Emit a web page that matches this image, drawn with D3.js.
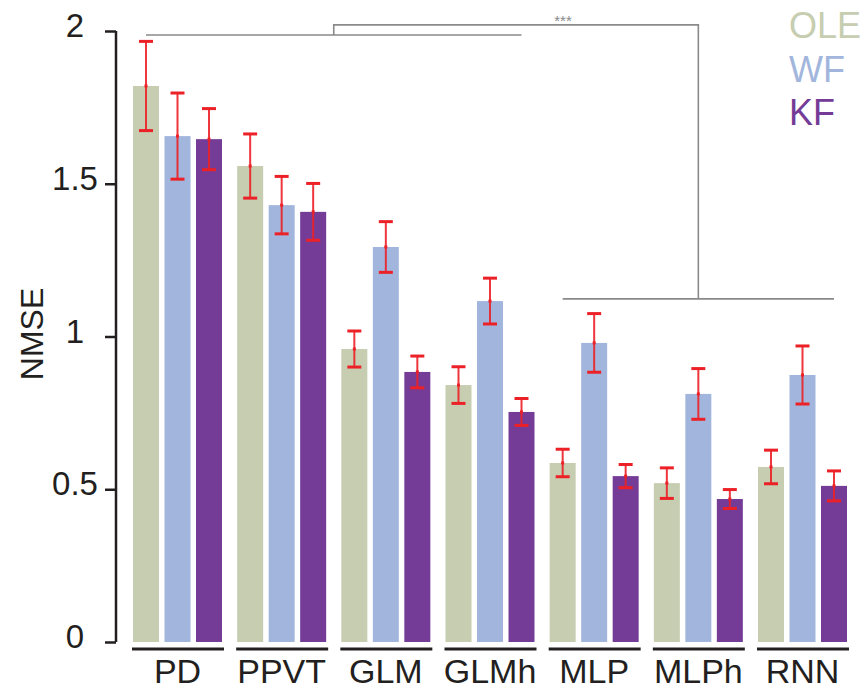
<!DOCTYPE html>
<html>
<head>
<meta charset="utf-8">
<script src="https://cdn.jsdelivr.net/npm/d3@7"></script>
<style>
  body { margin: 0; background: #fff; }
  svg text { font-family: "Liberation Sans", Arial, Helvetica, sans-serif; }
</style>
</head>
<body>
<div id="wrapper"></div>
<script>
// data
const groups = ["PD", "PPVT", "GLM", "GLMh", "MLP", "MLPh", "RNN"];
const series = ["OLE", "WF", "KF"];
const oleMean = [1.820, 1.558, 0.959, 0.841, 0.586, 0.520, 0.573];
const oleErr  = [0.146, 0.105, 0.059, 0.060, 0.045, 0.050, 0.055];
const wfMean  = [1.656, 1.430, 1.293, 1.116, 0.979, 0.812, 0.874];
const wfErr   = [0.141, 0.094, 0.083, 0.075, 0.096, 0.083, 0.095];
const kfMean  = [1.646, 1.408, 0.884, 0.753, 0.543, 0.468, 0.511];
const kfErr   = [0.100, 0.093, 0.052, 0.044, 0.038, 0.031, 0.049];
const yTicks = [0, 0.5, 1, 1.5, 2];
const yTickLabels = ["0", "0.5", "1", "1.5", "2"];

const colors = { OLE: "#c6cdb0", WF: "#a2b6dd", KF: "#743c97" };
const red = "#ec2027";

const W = 866, H = 692;
const svg = d3.select("#wrapper").append("svg")
  .attr("width", W).attr("height", H);

const y = d3.scaleLinear().domain([0, 2]).range([642, 31]);
const x0 = d3.scaleBand().domain(groups).range([133, 847])
  .paddingInner(0.1456).paddingOuter(0);
const x1 = d3.scaleBand().domain(series).range([0, x0.bandwidth()])
  .paddingInner(0.1746).paddingOuter(0);

const means = { OLE: oleMean, WF: wfMean, KF: kfMean };
const errs = { OLE: oleErr, WF: wfErr, KF: kfErr };
const rows = [];
groups.forEach((g, i) => {
  series.forEach(s => rows.push({ g: g, s: s, v: means[s][i], e: errs[s][i] }));
});
const cx = d => x0(d.g) + x1(d.s) + x1.bandwidth() / 2;

// bars
svg.append("g").selectAll("rect")
  .data(rows).enter().append("rect")
  .attr("x", d => x0(d.g) + x1(d.s))
  .attr("y", d => y(d.v))
  .attr("width", x1.bandwidth())
  .attr("height", d => y(0) - y(d.v))
  .attr("fill", d => colors[d.s]);

// error bars
const eb = svg.append("g").attr("stroke", red).selectAll("g")
  .data(rows).enter().append("g");
eb.append("line")
  .attr("x1", cx).attr("x2", cx)
  .attr("y1", d => y(d.v + d.e)).attr("y2", d => y(d.v - d.e))
  .attr("stroke-width", 2).attr("stroke-opacity", 0.9);
eb.append("line")
  .attr("x1", d => cx(d) - 7).attr("x2", d => cx(d) + 7)
  .attr("y1", d => y(d.v + d.e)).attr("y2", d => y(d.v + d.e))
  .attr("stroke-width", 3);
eb.append("line")
  .attr("x1", d => cx(d) - 7).attr("x2", d => cx(d) + 7)
  .attr("y1", d => y(d.v - d.e)).attr("y2", d => y(d.v - d.e))
  .attr("stroke-width", 3);
eb.append("rect")
  .attr("x", d => cx(d) - 1.5).attr("y", d => y(d.v) - 1.5)
  .attr("width", 3).attr("height", 3)
  .attr("fill", red).attr("stroke", "none");

// y axis
const yAxis = d3.axisLeft(y).tickValues(yTicks)
  .tickSize(11).tickPadding(0)
  .tickFormat((d, i) => yTickLabels[i]);
const ya = svg.append("g").attr("transform", "translate(116,0)").call(yAxis);
ya.select(".domain").attr("d", "M0," + y(2) + "V" + y(0))
  .attr("stroke", "#231f20").attr("stroke-width", 2.5);
ya.selectAll(".tick line").attr("stroke", "#231f20").attr("stroke-width", 2.5);
ya.selectAll(".tick text")
  .attr("x", -41).attr("dy", "0.17em")
  .attr("text-anchor", "middle")
  .style("font-size", "33px").attr("fill", "#231f20");

svg.append("text")
  .attr("transform", "translate(43," + 334 + ") rotate(-90)")
  .attr("text-anchor", "middle")
  .style("font-size", "32px").attr("fill", "#231f20")
  .text("NMSE");

// group underlines + labels
const gl = svg.append("g").selectAll("g").data(groups).enter().append("g");
gl.append("line")
  .attr("x1", g => x0(g) - 1).attr("x2", g => x0(g) + x0.bandwidth() + 2)
  .attr("y1", 649).attr("y2", 649)
  .attr("stroke", "#231f20").attr("stroke-width", 3);
gl.append("text")
  .attr("x", g => x0(g) + x0.bandwidth() / 2)
  .attr("y", 683)
  .attr("text-anchor", "middle")
  .style("font-size", "34px").attr("fill", "#231f20")
  .text(g => g);

// significance bracket
const gray = "#8a8a8a";
const xa1 = cx({ g: "PD", s: "OLE" }), xa2 = cx({ g: "GLMh", s: "KF" });
const xb1 = cx({ g: "MLP", s: "OLE" }), xb2 = cx({ g: "RNN", s: "KF" });
const ma = (xa1 + xa2) / 2, mb = (xb1 + xb2) / 2;
const br = svg.append("g").attr("stroke", gray).attr("stroke-width", 1.6).attr("fill", "none");
br.append("path").attr("d", "M" + xa1 + "," + y(1.987) + "H" + xa2);
br.append("path").attr("d", "M" + xb1 + "," + y(1.123) + "H" + xb2);
br.append("path").attr("d", "M" + ma + "," + y(1.987) + "V" + y(2.02) + "H" + mb + "V" + y(1.123));
svg.append("text")
  .attr("x", 563).attr("y", 26)
  .attr("text-anchor", "middle")
  .style("font-size", "15px").attr("fill", gray)
  .text("***");

// legend
svg.append("g").selectAll("text").data(series).enter().append("text")
  .attr("x", 789)
  .attr("y", (d, i) => 38 + i * 43.5)
  .style("font-size", "36px")
  .attr("fill", d => colors[d])
  .text(d => d);
</script>
</body>
</html>
